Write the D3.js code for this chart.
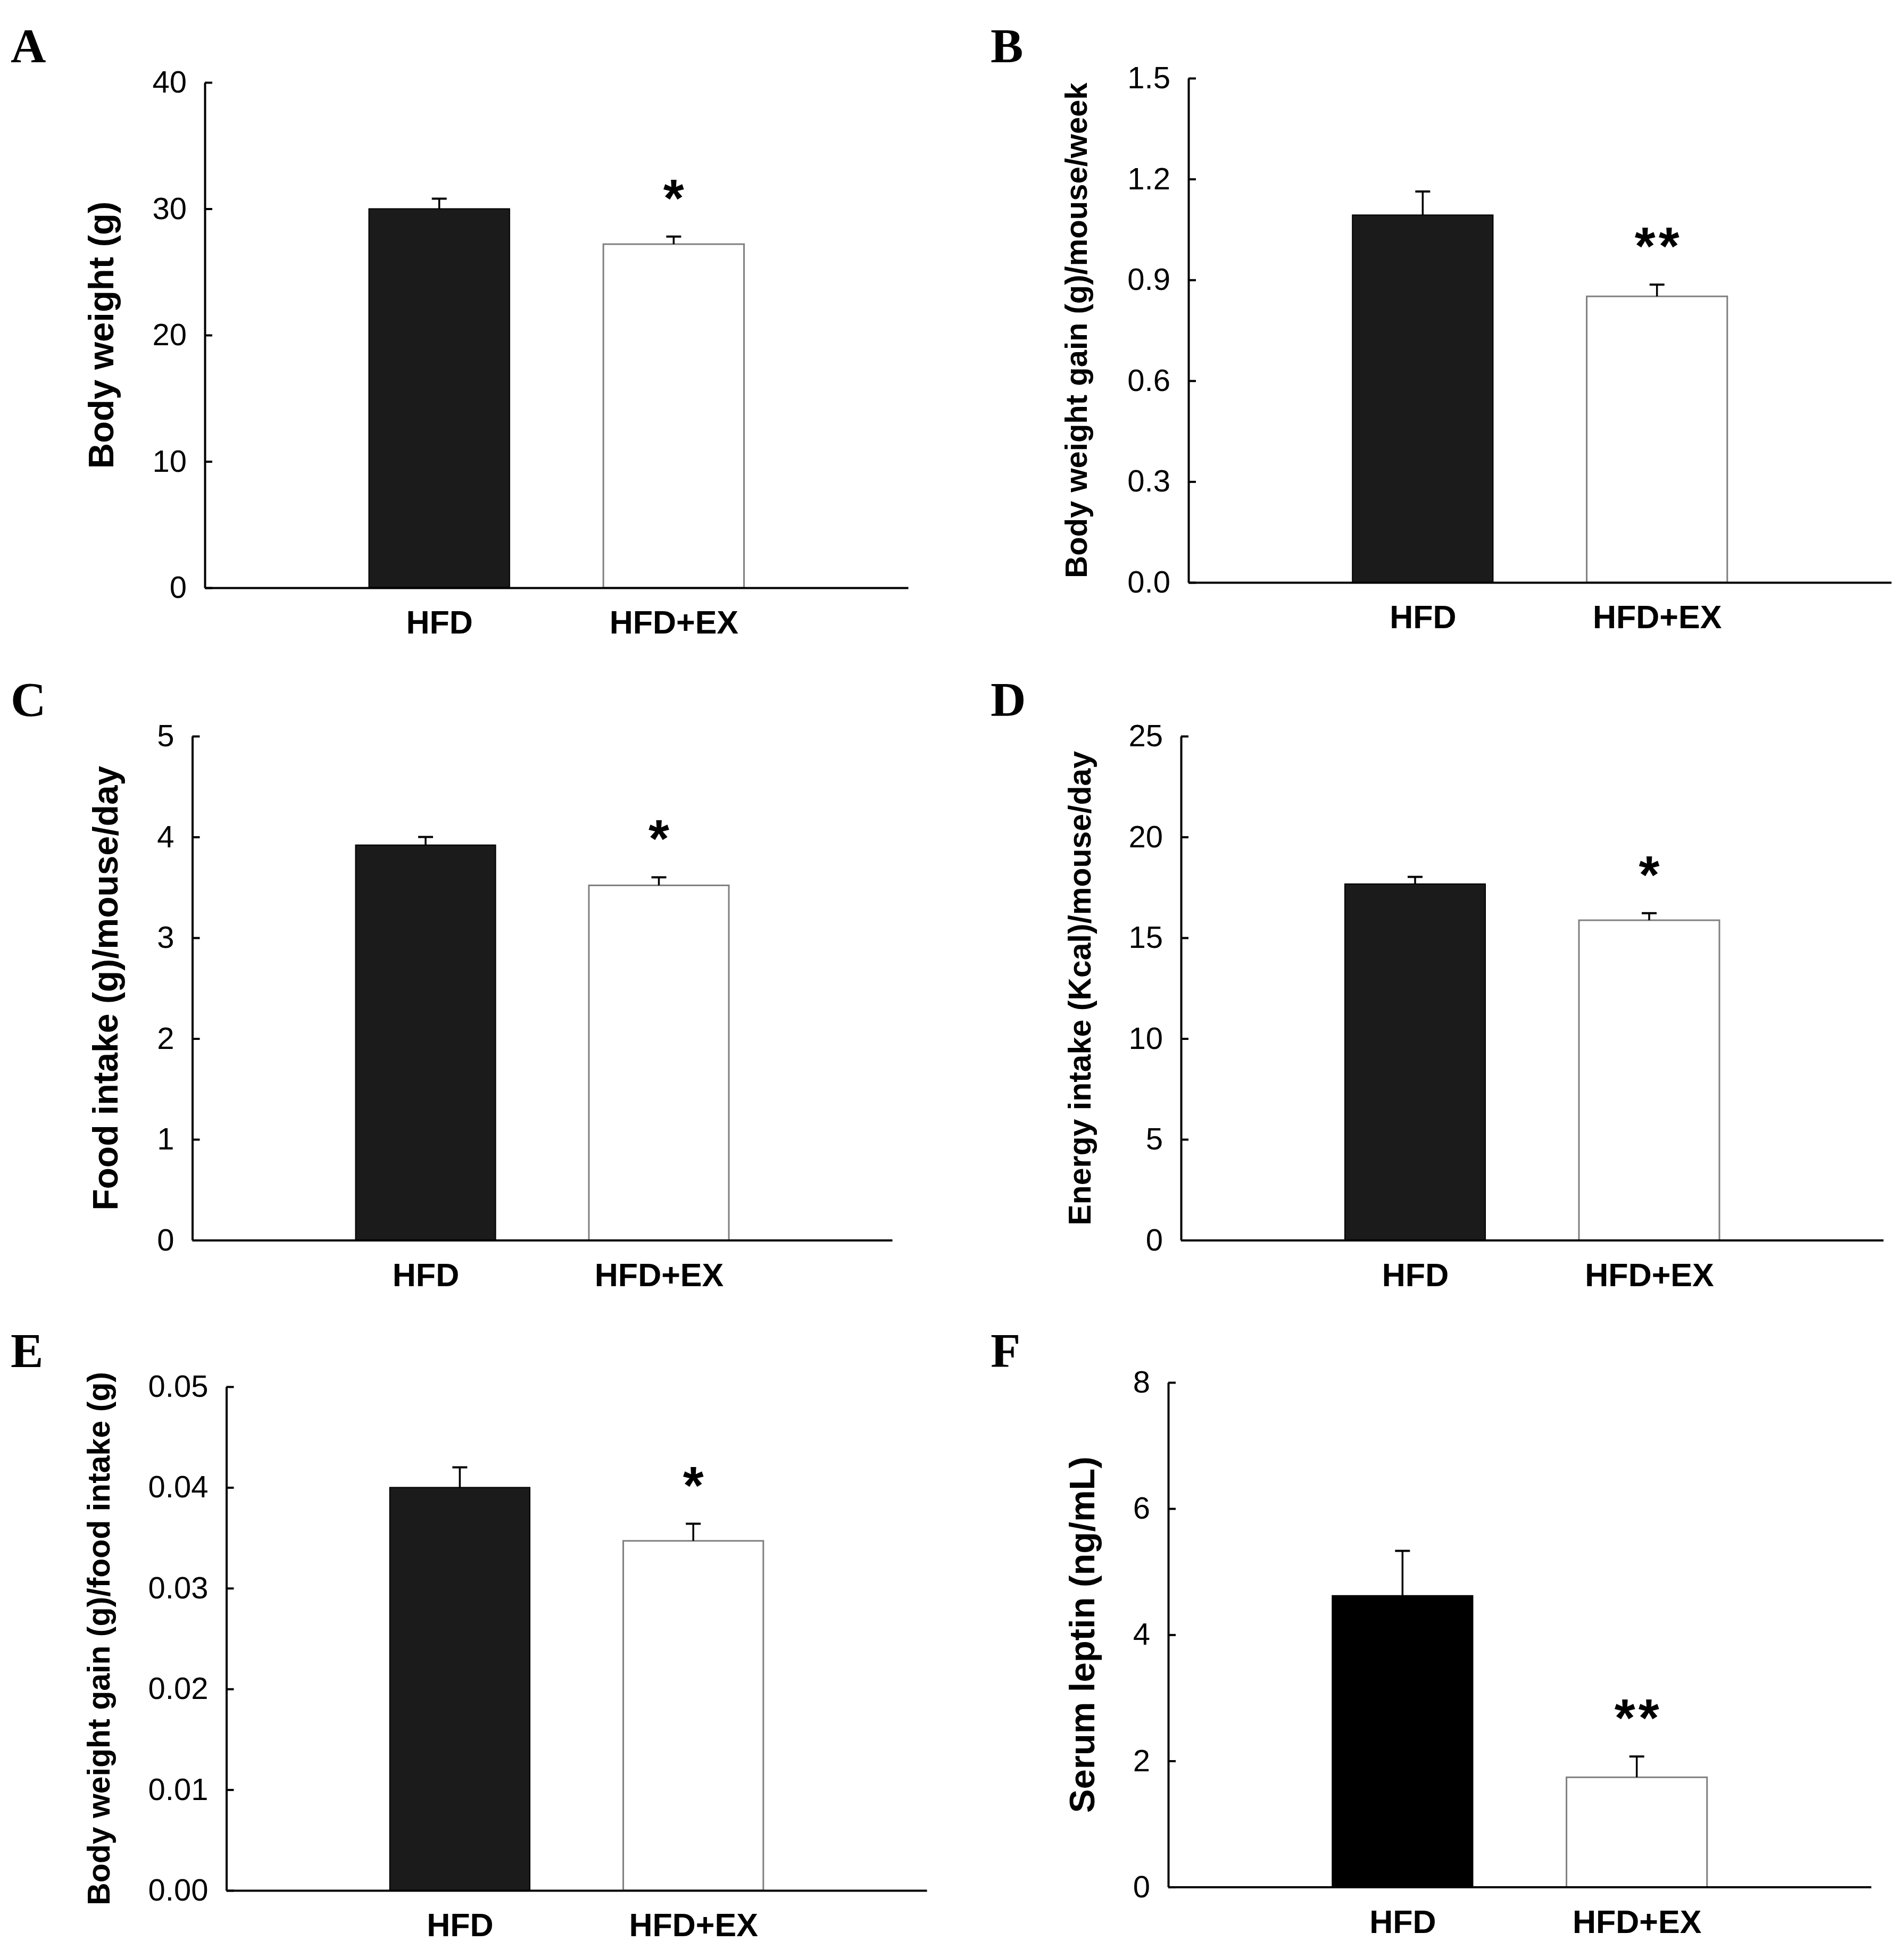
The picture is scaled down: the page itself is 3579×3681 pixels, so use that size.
<!DOCTYPE html>
<html>
<head>
<meta charset="utf-8">
<script src="https://cdn.jsdelivr.net/npm/d3@7"></script>
<style>
  body { margin: 0; background: #fff; }
  svg { display: block; }
</style>
</head>
<body>
<svg id="fig" width="3579" height="3681"></svg>
<script>
// values
const categories = ['HFD', 'HFD+EX'];
const panelLetters = ['A', 'B', 'C', 'D', 'E', 'F'];
const yTitles = [
    'Body weight (g)',
    'Body weight gain (g)/mouse/week',
    'Food intake (g)/mouse/day',
    'Energy intake (Kcal)/mouse/day',
    'Body weight gain (g)/food intake (g)',
    'Serum leptin (ng/mL)'
];
const means = [
    [30.0, 27.2],
    [1.093, 0.851],
    [3.92, 3.52],
    [17.67, 15.87],
    [0.0400, 0.0347],
    [4.62, 1.74]
];
const errors = [
    [0.8, 0.6],
    [0.070, 0.035],
    [0.08, 0.08],
    [0.35, 0.35],
    [0.0020, 0.0017],
    [0.71, 0.33]
];
const yTickValues = [
    [0, 10, 20, 30, 40],
    [0, 0.3, 0.6, 0.9, 1.2, 1.5],
    [0, 1, 2, 3, 4, 5],
    [0, 5, 10, 15, 20, 25],
    [0, 0.01, 0.02, 0.03, 0.04, 0.05],
    [0, 2, 4, 6, 8]
];
const yTickLabels = [
    ['0', '10', '20', '30', '40'],
    ['0.0', '0.3', '0.6', '0.9', '1.2', '1.5'],
    ['0', '1', '2', '3', '4', '5'],
    ['0', '5', '10', '15', '20', '25'],
    ['0.00', '0.01', '0.02', '0.03', '0.04', '0.05'],
    ['0', '2', '4', '6', '8']
];
const marks = ['*', '**', '*', '*', '*', '**'];

// where each panel sits on the page
const frames = [
    {x0: 385, x1: 1707, y0: 155, y1: 1105, lx: 20, ly: 117, titleDx: 196, titleSize: 67, dark: '#1b1b1b'},
    {x0: 2234, x1: 3555, y0: 147, y1: 1095, lx: 1862, ly: 117, titleDx: 212, titleSize: 58, dark: '#1b1b1b'},
    {x0: 361.5, x1: 1677, y0: 1384, y1: 2331.5, lx: 20, ly: 1346, titleDx: 164, titleSize: 66, dark: '#1b1b1b'},
    {x0: 2220, x1: 3540, y0: 1384, y1: 2331.5, lx: 1862, ly: 1346, titleDx: 190, titleSize: 59, dark: '#1b1b1b'},
    {x0: 425.5, x1: 1742, y0: 2607, y1: 3554, lx: 20, ly: 2570, titleDx: 240, titleSize: 59, dark: '#1b1b1b'},
    {x0: 2196, x1: 3517, y0: 2599, y1: 3547.6, lx: 1862, ly: 2570, titleDx: 163, titleSize: 67, dark: '#000000'}
];

const SANS = '"Liberation Sans", Arial, Helvetica, sans-serif';
const SERIF = '"Liberation Serif", "Times New Roman", serif';

const svg = d3.select('#fig');
svg.append('rect').attr('width', 3579).attr('height', 3681).attr('fill', '#fff');

frames.forEach((f, i) => {
    const g = svg.append('g').attr('class', 'panel');
    const ticks = yTickValues[i];
    const x = d3.scalePoint().domain(categories).range([f.x0, f.x1]).padding(1);
    const y = d3.scaleLinear().domain([0, ticks[ticks.length - 1]]).range([f.y1, f.y0]);
    const bw = x.step() * 0.6;
    const rows = categories.map((c, j) => ({cat: c, mean: means[i][j], err: errors[i][j], j: j}));

    // bars
    g.selectAll('.bar')
        .data(rows)
        .enter().append('rect')
        .attr('class', 'bar')
        .attr('x', d => x(d.cat) - bw / 2)
        .attr('y', d => y(d.mean))
        .attr('width', bw)
        .attr('height', d => y(0) - y(d.mean))
        .attr('fill', d => d.j === 0 ? f.dark : '#fff')
        .attr('stroke', d => d.j === 0 ? '#000' : '#808080')
        .attr('stroke-width', d => d.j === 0 ? 2 : 3);

    // error bars (upper only)
    g.selectAll('.err')
        .data(rows)
        .enter().append('line')
        .attr('class', 'err')
        .attr('x1', d => x(d.cat)).attr('x2', d => x(d.cat))
        .attr('y1', d => y(d.mean)).attr('y2', d => y(d.mean + d.err))
        .attr('stroke', '#000').attr('stroke-width', 3.5);
    g.selectAll('.cap')
        .data(rows)
        .enter().append('line')
        .attr('class', 'cap')
        .attr('x1', d => x(d.cat) - 14).attr('x2', d => x(d.cat) + 14)
        .attr('y1', d => y(d.mean + d.err)).attr('y2', d => y(d.mean + d.err))
        .attr('stroke', '#000').attr('stroke-width', 4);

    // significance marks
    const ex = rows[1];
    g.append('text')
        .attr('x', x(ex.cat) + 3)
        .attr('y', y(ex.mean + ex.err) - 38)
        .attr('text-anchor', 'middle')
        .attr('font-family', SANS)
        .attr('font-weight', 'bold')
        .attr('font-size', 100)
        .attr('letter-spacing', 6)
        .text(marks[i]);

    // y axis, ticks point inward
    const ya = g.append('g')
        .attr('transform', `translate(${f.x0},0)`)
        .call(d3.axisLeft(y)
            .tickValues(ticks)
            .tickFormat((d, k) => yTickLabels[i][k])
            .tickSizeInner(-14)
            .tickSizeOuter(0)
            .tickPadding(34));
    ya.attr('font-family', SANS).attr('font-size', 58);
    ya.selectAll('path, line').attr('stroke', '#000').attr('stroke-width', 4);
    ya.selectAll('text').attr('fill', '#000');

    // x axis
    const xa = g.append('g')
        .attr('transform', `translate(0,${f.y1})`)
        .call(d3.axisBottom(x).tickSize(0).tickSizeOuter(0).tickPadding(43));
    xa.attr('font-family', SANS).attr('font-size', 61).attr('font-weight', 'bold');
    xa.select('.domain').attr('stroke', '#000').attr('stroke-width', 4);
    xa.selectAll('text').attr('fill', '#000');

    // y title
    g.append('text')
        .attr('transform', `translate(${f.x0 - f.titleDx},${(f.y0 + f.y1) / 2}) rotate(-90)`)
        .attr('text-anchor', 'middle')
        .attr('dominant-baseline', 'central')
        .attr('font-family', SANS)
        .attr('font-weight', 'bold')
        .attr('font-size', f.titleSize)
        .text(yTitles[i]);

    // panel letter
    g.append('text')
        .attr('x', f.lx)
        .attr('y', f.ly)
        .attr('font-family', SERIF)
        .attr('font-weight', 'bold')
        .attr('font-size', 92)
        .text(panelLetters[i]);
});
</script>
</body>
</html>
